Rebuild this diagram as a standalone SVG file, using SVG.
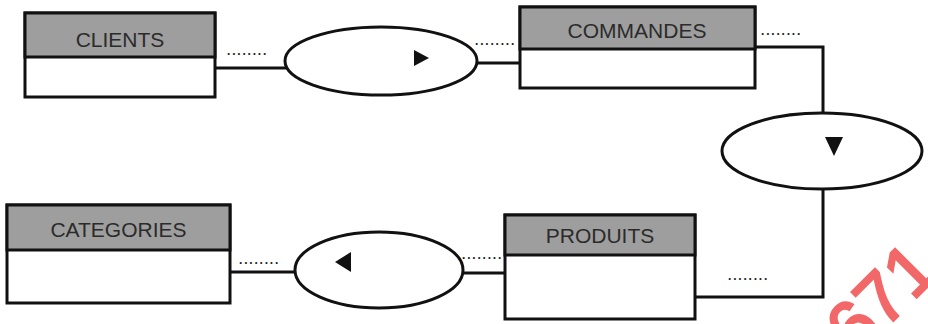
<svg xmlns="http://www.w3.org/2000/svg" width="928" height="324" viewBox="0 0 928 324">
<style>
.box{fill:#fff;stroke:#111;stroke-width:3}
.hdr{fill:#9e9e9e;stroke:#111;stroke-width:3}
.title{font-family:"Liberation Sans",Arial,sans-serif;font-size:21px;fill:#2b2b2b;text-anchor:middle}
.ell{fill:#fff;stroke:#111;stroke-width:3}
.tri{fill:#111}
.con{fill:none;stroke:#111;stroke-width:3}
.dots{font-family:"Liberation Sans",Arial,sans-serif;font-size:12px;font-weight:bold;letter-spacing:1.8px;fill:#222}
.wm{font-family:"Liberation Sans",Arial,sans-serif;font-size:72px;fill:#f26868;stroke:#f26868;stroke-width:2.5}
</style>
<rect width="928" height="324" fill="#fff"/>
<g id="connectors">
<path class="con" d="M215,68 H287"/>
<path class="con" d="M477,63 H520"/>
<path class="con" d="M755,47 H823 V113"/>
<path class="con" d="M823,189 V297 H695"/>
<path class="con" d="M505,273 H463"/>
<path class="con" d="M295,272 H230"/>
<text class="dots" x="227" y="55">........</text>
<text class="dots" x="475" y="45">........</text>
<text class="dots" x="761" y="35">........</text>
<text class="dots" x="728" y="280">........</text>
<text class="dots" x="462" y="259">........</text>
<text class="dots" x="239" y="264">........</text>
</g>
<g id="clients">
<rect class="box" x="25" y="13" width="190" height="84"/>
<rect class="hdr" x="25" y="13" width="190" height="44"/>
<text class="title" x="120" y="47">CLIENTS</text>
</g>
<g id="commandes">
<rect class="box" x="520" y="7" width="235" height="81"/>
<rect class="hdr" x="520" y="7" width="235" height="42"/>
<text class="title" x="637" y="38">COMMANDES</text>
</g>
<g id="produits">
<rect class="box" x="505" y="215" width="190" height="104"/>
<rect class="hdr" x="505" y="215" width="190" height="40"/>
<text class="title" x="600" y="243">PRODUITS</text>
</g>
<g id="categories">
<rect class="box" x="7" y="205" width="223" height="98"/>
<rect class="hdr" x="7" y="205" width="223" height="45"/>
<text class="title" x="118.5" y="237">CATEGORIES</text>
</g>
<g id="assoc1">
<ellipse class="ell" cx="381" cy="61" rx="96" ry="34"/>
<polygon class="tri" points="414,50 429,58 414,66"/>
</g>
<g id="assoc2">
<ellipse class="ell" cx="822" cy="151" rx="100" ry="38"/>
<polygon class="tri" points="825,137 843,137 834,156"/>
</g>
<g id="assoc3">
<ellipse class="ell" cx="379" cy="270" rx="84" ry="38"/>
<polygon class="tri" points="351,252 335,262 351,272"/>
</g>
<g id="watermark">
<text class="wm" transform="translate(856,358) rotate(-45)">671</text>
</g>
</svg>
